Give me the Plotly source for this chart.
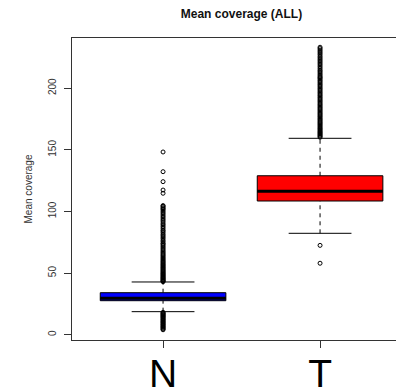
import plotly.graph_objects as go

# ---- data ----
groups = ["N", "T"]
positions = [1, 2]
fills = ["#0000FF", "#FF0000"]
q1 = [27.6, 108.5]
median = [29.5, 116.4]
q3 = [34.1, 129.0]
lower_whisker = [18.7, 82.3]
upper_whisker = [42.8, 159.4]

n_outliers = [
    43.0, 43.5, 44.0, 44.6, 45.2, 45.8, 46.4, 47.0, 47.7, 48.3, 49.0, 49.6, 50.3,
    51.0, 51.7, 52.4, 53.1, 53.9, 54.6, 55.4, 56.2, 57.0, 57.8, 58.7, 59.5, 60.4,
    61.3, 62.2, 63.1, 64.1, 65.0, 66.0, 67.0, 68.0, 69.1, 70.2, 71.3, 72.4, 73.5,
    74.2, 75.5, 76.6, 78.0, 79.2, 80.4, 81.5, 82.9, 84.1, 85.0, 86.4, 87.7, 89.0,
    90.1, 91.5, 92.8, 94.0, 95.3, 96.5, 97.8, 99.0, 100.2, 101.4, 102.3, 103.1,
    104.2, 104.8, 114.8, 117.4, 124.2, 132.3, 148.3,
    18.2, 17.6, 17.0, 16.4, 15.8, 15.2, 14.6, 14.0, 13.3, 12.6, 12.0, 11.3, 10.6,
    10.0, 9.3, 8.6, 8.0, 7.3, 6.6, 6.0, 5.3, 4.6, 4.0,
]
t_outliers = [
    160.2, 161.0, 161.8, 162.6, 163.4, 164.2, 165.0, 165.9, 166.8, 167.6, 168.5,
    169.4, 170.3, 171.2, 172.1, 173.0, 174.0, 174.9, 175.8, 176.8, 177.7, 178.7,
    179.6, 180.6, 181.6, 182.6, 183.6, 184.6, 185.6, 186.6, 187.6, 188.7, 189.7,
    190.7, 191.8, 192.8, 193.9, 194.9, 196.0, 197.0, 198.1, 199.2, 200.2, 201.3,
    202.4, 203.4, 204.5, 205.6, 206.6, 207.7, 208.6, 209.4, 210.5, 211.6, 212.8,
    213.9, 214.9, 216.2, 217.5, 218.8, 220.0, 221.2, 222.4, 223.6, 224.8, 226.0,
    227.4, 228.6, 229.8, 231.0, 232.2, 233.3,
    72.5, 58.0,
]
outliers = [n_outliers, t_outliers]

y_ticks = [0, 50, 100, 150, 200]
title_text = "Mean coverage (ALL)"
y_title = "Mean coverage"

box_width = 0.8
cap_half = 0.2

fig = go.Figure()

for i, g in enumerate(groups):
    x0 = positions[i]
    # dashed whiskers
    fig.add_trace(go.Scatter(x=[x0, x0], y=[lower_whisker[i], q1[i]], mode="lines",
                             line=dict(color="black", width=1, dash="4px,4px"),
                             showlegend=False, hoverinfo="skip"))
    fig.add_trace(go.Scatter(x=[x0, x0], y=[q3[i], upper_whisker[i]], mode="lines",
                             line=dict(color="black", width=1, dash="4px,4px"),
                             showlegend=False, hoverinfo="skip"))
    # caps
    for v in (lower_whisker[i], upper_whisker[i]):
        fig.add_trace(go.Scatter(x=[x0 - cap_half, x0 + cap_half], y=[v, v], mode="lines",
                                 line=dict(color="black", width=1),
                                 showlegend=False, hoverinfo="skip"))
    # box
    fig.add_trace(go.Box(x=[x0], q1=[q1[i]], median=[median[i]], q3=[q3[i]],
                         lowerfence=[q1[i]], upperfence=[q3[i]],
                         width=box_width, whiskerwidth=0, fillcolor=fills[i],
                         line=dict(color="black", width=1), boxpoints=False,
                         showlegend=False, name=g))
    # thick median
    fig.add_trace(go.Scatter(x=[x0 - box_width / 2, x0 + box_width / 2],
                             y=[median[i], median[i]], mode="lines",
                             line=dict(color="black", width=3),
                             showlegend=False, hoverinfo="skip"))
    # outliers
    fig.add_trace(go.Scatter(x=[x0] * len(outliers[i]), y=outliers[i], mode="markers",
                             marker=dict(symbol="circle-open", size=4,
                                         line=dict(color="black", width=1), color="black"),
                             showlegend=False, hoverinfo="skip"))

fig.update_layout(
    width=396, height=388,
    margin=dict(l=72, r=0, t=38, b=48, autoexpand=False),
    paper_bgcolor="white", plot_bgcolor="white",
    font=dict(family="Liberation Sans, Arial, sans-serif", color="#222"),
    title=dict(text="<b>" + title_text + "</b>", x=0.523, xref="paper", xanchor="center",
               y=1 - 14 / 388, yref="container", yanchor="middle",
               font=dict(size=12, color="#111")),
    xaxis=dict(range=[0.42, 0.42 + 324 / 157], tickvals=positions, ticktext=groups,
               automargin=False,
               showgrid=False, zeroline=False, showline=True, mirror=True,
               linecolor="#333", linewidth=1, ticks="outside", ticklen=7,
               tickcolor="#333", tickfont=dict(size=39, color="black"),
               ticklabelstandoff=-8),
    yaxis=dict(range=[-4.3, 240.8], tickvals=y_ticks, showgrid=False, zeroline=False,
               automargin=False,
               showline=True, linecolor="#333", linewidth=1, ticks="outside", ticklen=7,
               tickcolor="#333", tickangle=-90, tickfont=dict(size=10, color="#333"),
               ticklabelstandoff=4,
               title=dict(text=y_title, font=dict(size=10, color="#333"), standoff=12)),
)

fig.write_html("out.html")
